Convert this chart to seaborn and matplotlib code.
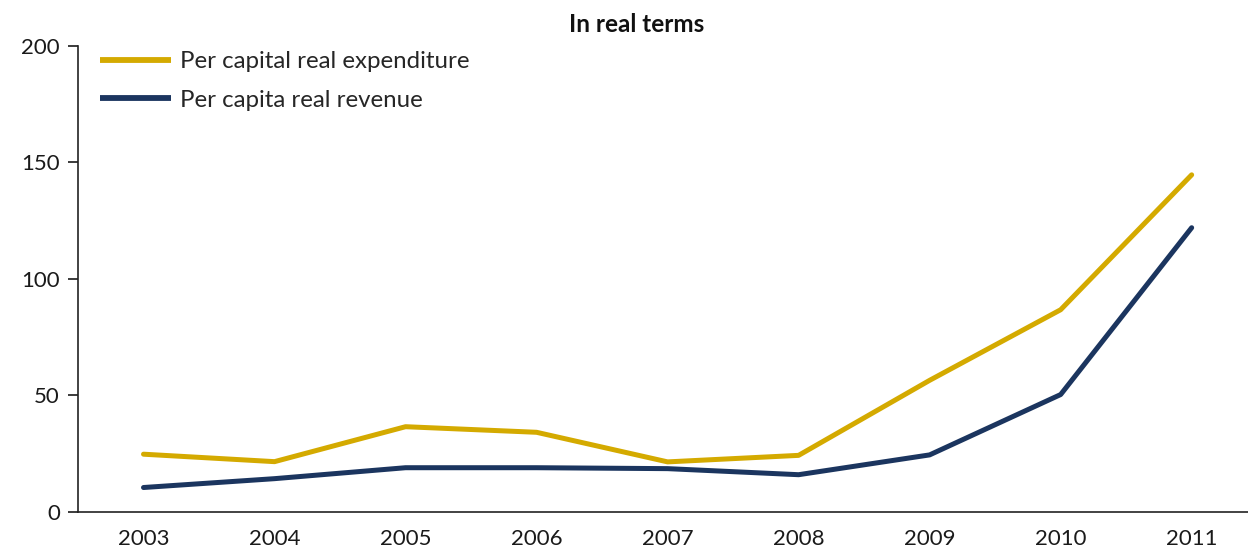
import numpy as np
import pandas as pd
import matplotlib
matplotlib.use("Agg")
import matplotlib.pyplot as plt
import seaborn as sns

years = ["2003", "2004", "2005", "2006", "2007", "2008", "2009", "2010", "2011"]
expenditure = [24.8, 21.6, 36.6, 34.2, 21.5, 24.3, 56.5, 86.8, 144.7]
revenue = [10.5, 14.3, 19.0, 19.0, 18.6, 16.0, 24.5, 50.4, 122.0]
series_names = ["Per capital real expenditure", "Per capita real revenue"]
colors = ["#D4AA00", "#1B355F"]

sns.set_theme(style="white")
plt.rcParams["font.family"] = ["Lato", "DejaVu Sans"]

df = pd.DataFrame({
    "year": years * 2,
    "value": expenditure + revenue,
    "series": [series_names[0]] * len(years) + [series_names[1]] * len(years),
})
df["pos"] = df["year"].map({y: i for i, y in enumerate(years)})

fig = plt.figure(figsize=(12.48, 5.52), dpi=100)
ax = fig.add_axes([0.0625, 0.0725, 0.9375, 0.8442])

sns.lineplot(data=df, x="pos", y="value", hue="series", hue_order=series_names,
             palette=colors, linewidth=3.6, ax=ax)

ax.set_xlim(-0.5, 8.43)
ax.set_ylim(0, 200)
ax.set_xticks(range(len(years)))
ax.set_xticklabels(years)
ax.set_xticks(np.arange(-0.5, len(years) - 0.5, 1), minor=True)
ax.tick_params(axis="x", which="major", length=0, pad=12, labelsize=16, colors="#1a1a1a")
ax.tick_params(axis="x", which="minor", length=7, width=1.2, direction="out", color="#222222")
ax.set_yticks([0, 50, 100, 150, 200])
ax.tick_params(axis="y", length=7, width=1.2, direction="out", pad=6, labelsize=16,
               colors="#1a1a1a", left=True)
ax.set_xlabel("")
ax.set_ylabel("")

for s in ["top", "right"]:
    ax.spines[s].set_visible(False)
for s in ["left", "bottom"]:
    ax.spines[s].set_color("#222222")
    ax.spines[s].set_linewidth(1.2)

fig.text(0.51, 0.955, "In real terms", ha="center", va="center",
         fontsize=17.5, fontweight="bold", color="#111111")

leg = ax.legend(loc="upper left", bbox_to_anchor=(0.0, 1.035), frameon=False,
                fontsize=17.3, handlelength=2.95, handletextpad=0.4,
                labelspacing=0.72)
for line in leg.get_lines():
    line.set_linewidth(4.2)
    line.set_solid_capstyle("butt")

fig.savefig("out.png", dpi=100)
